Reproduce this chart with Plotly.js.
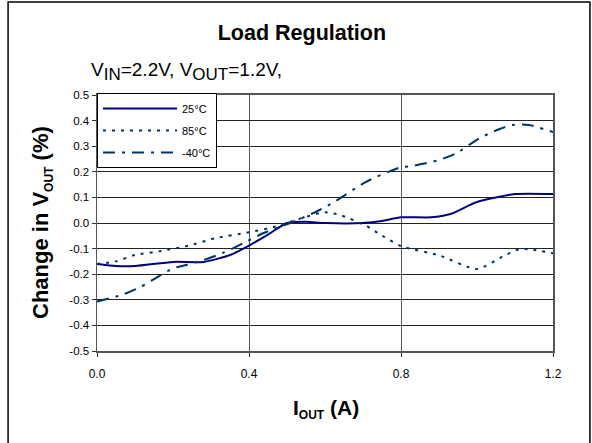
<!DOCTYPE html>
<html>
<head>
<meta charset="utf-8">
<script src="https://cdn.plot.ly/plotly-3.0.1.min.js"></script>
<style>
html,body{margin:0;padding:0;background:#fff;}
#chart{width:592px;height:443px;}
</style>
</head>
<body>
<div id="chart"></div>
<script>
// Data
const x25 = [0.0, 0.05, 0.10, 0.20, 0.28, 0.35, 0.40, 0.45, 0.50, 0.55, 0.60, 0.70, 0.75, 0.80, 0.88, 0.93, 1.00, 1.10, 1.20];
const y25 = [-0.160, -0.168, -0.168, -0.152, -0.152, -0.125, -0.088, -0.045, 0.000, 0.005, 0.000, 0.000, 0.008, 0.022, 0.022, 0.035, 0.082, 0.113, 0.113];

const x85 = [0.0, 0.05, 0.10, 0.17, 0.24, 0.31, 0.40, 0.47, 0.53, 0.60, 0.64, 0.71, 0.74, 0.80, 0.90, 1.00, 1.07, 1.11, 1.14, 1.20];
const y85 = [-0.160, -0.150, -0.125, -0.109, -0.089, -0.060, -0.036, -0.014, 0.015, 0.042, 0.031, -0.012, -0.040, -0.090, -0.126, -0.180, -0.129, -0.103, -0.103, -0.118];

const xm40 = [0.0, 0.065, 0.113, 0.16, 0.20, 0.235, 0.28, 0.33, 0.385, 0.437, 0.507, 0.577, 0.625, 0.708, 0.796, 0.83, 0.90, 0.945, 1.006, 1.058, 1.093, 1.137, 1.20];
const ym40 = [-0.307, -0.281, -0.251, -0.210, -0.177, -0.164, -0.145, -0.118, -0.079, -0.040, -0.001, 0.044, 0.083, 0.161, 0.216, 0.223, 0.246, 0.272, 0.331, 0.366, 0.383, 0.383, 0.355];

const seriesNames = ['25°C', '85°C', '-40°C'];
const xTicks = [0.0, 0.4, 0.8, 1.2];
const yTicks = [-0.5, -0.4, -0.3, -0.2, -0.1, 0.0, 0.1, 0.2, 0.3, 0.4, 0.5];

const FONT = 'Arial, "Liberation Sans", sans-serif';

const traces = [
  {x: x25, y: y25, name: seriesNames[0], legendgroup: 'a', mode: 'lines',
   line: {color: '#000080', width: 2, shape: 'spline', smoothing: 0.6}},
  {x: x85, y: y85, name: seriesNames[1], legendgroup: 'b', mode: 'lines',
   line: {color: '#003366', width: 2, dash: '3px,6px', shape: 'spline', smoothing: 0.6}},
  {x: xm40, y: ym40, name: seriesNames[2], legendgroup: 'c', mode: 'lines',
   line: {color: '#003366', width: 2, dash: '12px,7px,3px,7px', shape: 'spline', smoothing: 0.6}}
];

const layout = {
  width: 592, height: 443,
  margin: {l: 97, r: 39, t: 95, b: 92},
  paper_bgcolor: '#fff', plot_bgcolor: '#fff',
  font: {family: FONT, color: '#000', size: 11},
  showlegend: true,
  title: {text: '<b>Load Regulation</b>', font: {family: FONT, size: 21.5, color: '#000'},
          xref: 'container', x: 0.51, xanchor: 'center', yref: 'container', y: 1 - 32.5/443, yanchor: 'middle'},
  xaxis: {range: [0, 1.2], tickvals: xTicks, ticktext: xTicks.map(v => v.toFixed(1)),
          showgrid: true, gridcolor: '#555', gridwidth: 1,
          showline: true, linecolor: '#555', linewidth: 2, mirror: true,
          ticks: 'outside', ticklen: 4, tickcolor: '#333',
          tickfont: {family: FONT, size: 12, color: '#000'}, ticklabelstandoff: 7,
          zeroline: false, fixedrange: true},
  yaxis: {range: [-0.5, 0.5], tickvals: yTicks, ticktext: yTicks.map(v => v.toFixed(1)),
          showgrid: true, gridcolor: '#222', gridwidth: 1,
          showline: true, linecolor: '#555', linewidth: 1.5, mirror: true,
          ticks: 'outside', ticklen: 4, tickcolor: '#333',
          tickfont: {family: FONT, size: 11.5, color: '#000'},
          zeroline: false, fixedrange: true},
  legend: {x: 0, y: 1.008, xanchor: 'left', yanchor: 'top', bgcolor: '#fff',
           bordercolor: '#000', borderwidth: 1, itemwidth: 74,
           font: {family: FONT, size: 11, color: '#000'}, tracegroupgap: 3},
  annotations: [
    {text: 'V<sub><span style="font-size:17px">IN</span></sub>=2.2V, V<sub><span style="font-size:17px">OUT</span></sub>=1.2V,',
     xref: 'paper', yref: 'paper',
     x: (89 - 97) / 456, y: (351 - 71) / 256, xanchor: 'left', yanchor: 'middle', showarrow: false,
     font: {family: FONT, size: 19, color: '#000'}},
    {text: '<b>Change in V<sub><span style="font-size:12px">OUT</span></sub> (%)</b>', xref: 'paper', yref: 'paper',
     x: (42 - 97) / 456, y: 0.5, xanchor: 'center', yanchor: 'middle', textangle: -90, showarrow: false,
     font: {family: FONT, size: 22, color: '#000'}},
    {text: '<b>I<sub><span style="font-size:12px">OUT</span></sub> (A)</b>', xref: 'paper', yref: 'paper',
     x: (326 - 97) / 456, y: (351 - 409) / 256, xanchor: 'center', yanchor: 'middle', showarrow: false,
     font: {family: FONT, size: 21, color: '#000'}}
  ],
  shapes: [
    {type: 'rect', xref: 'paper', yref: 'paper', x0: -0.195, x1: 1.081, y0: -0.4, y1: 1.363,
     line: {color: '#000', width: 1.5}, fillcolor: 'rgba(0,0,0,0)', layer: 'below'}
  ]
};

Plotly.newPlot('chart', traces, layout, {staticPlot: true, displayModeBar: false});
</script>
</body>
</html>
